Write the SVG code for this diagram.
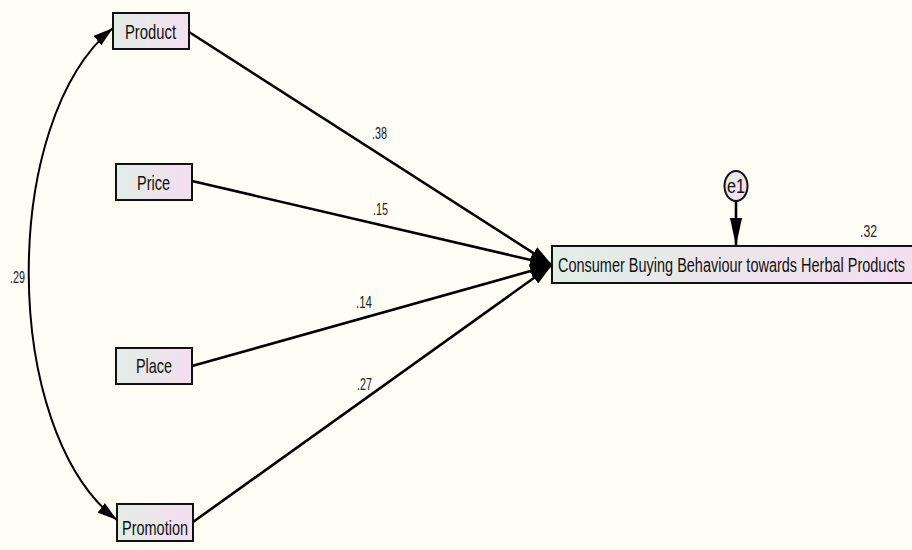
<svg xmlns="http://www.w3.org/2000/svg" width="912" height="550" viewBox="0 0 912 550">
<defs>
<linearGradient id="g" x1="0" y1="0" x2="1" y2="0">
<stop offset="0" stop-color="#e2ede4"/>
<stop offset="1" stop-color="#f4def1"/>
</linearGradient>
<marker id="ah" viewBox="0 0 22 14" refX="22" refY="7" markerWidth="22" markerHeight="14" markerUnits="userSpaceOnUse" orient="auto-start-reverse">
<path d="M0,0 L22,7 L0,14 Z" fill="#000"/>
</marker>
<marker id="ahs" viewBox="0 0 28 12" refX="28" refY="6" markerWidth="28" markerHeight="12" markerUnits="userSpaceOnUse" orient="auto-start-reverse">
<path d="M0,0 L28,6 L0,12 Z" fill="#000"/>
</marker>
<marker id="ahc" viewBox="0 0 20 12" refX="20" refY="6" markerWidth="20" markerHeight="12" markerUnits="userSpaceOnUse" orient="auto-start-reverse">
<path d="M0,0 L20,6 L0,12 Z" fill="#000"/>
</marker>
</defs>
<style>
.box{fill:url(#g);stroke:#111;stroke-width:2}
.t{font-family:"Liberation Sans",Arial,sans-serif;font-size:21px;fill:#111}
.lbl{font-family:"Liberation Sans",Arial,sans-serif;font-size:17px;fill:#222}
.ln{fill:none;stroke:#000;stroke-width:2.6}
</style>
<rect width="912" height="550" fill="#fefef7"/>
<g id="connectors">
<path class="ln" d="M189,32 L552,265" marker-end="url(#ah)"/>
<path class="ln" d="M192,181 L552,265" marker-end="url(#ah)"/>
<path class="ln" d="M192,366 L552,265" marker-end="url(#ah)"/>
<path class="ln" d="M193,522 L552,265" marker-end="url(#ah)"/>
<path class="ln" d="M736,201 L736,246" marker-end="url(#ahs)" stroke-width="2"/>
<path d="M113,28 C0,120 0,430 117,520" fill="none" stroke="#000" stroke-width="2" marker-start="url(#ahc)" marker-end="url(#ahc)"/>
<text class="lbl" x="372" y="139" textLength="15" lengthAdjust="spacingAndGlyphs">.38</text>
<text class="lbl" x="373" y="215" textLength="15" lengthAdjust="spacingAndGlyphs">.15</text>
<text class="lbl" x="356" y="308" textLength="16" lengthAdjust="spacingAndGlyphs">.14</text>
<text class="lbl" x="357" y="390" textLength="15" lengthAdjust="spacingAndGlyphs">.27</text>
<text class="lbl" x="10" y="283" textLength="15" lengthAdjust="spacingAndGlyphs">.29</text>
</g>
<g id="product">
<rect class="box" x="113" y="13" width="76" height="36"/>
<text class="t" x="125" y="39" textLength="51" lengthAdjust="spacingAndGlyphs">Product</text>
</g>
<g id="price">
<rect class="box" x="116" y="164" width="76" height="36"/>
<text class="t" x="137" y="190" textLength="33" lengthAdjust="spacingAndGlyphs">Price</text>
</g>
<g id="place">
<rect class="box" x="116" y="348" width="76" height="36"/>
<text class="t" x="136" y="373" textLength="36" lengthAdjust="spacingAndGlyphs">Place</text>
</g>
<g id="promotion">
<rect class="box" x="117" y="504" width="76" height="37"/>
<text class="t" x="122" y="535" textLength="66" lengthAdjust="spacingAndGlyphs">Promotion</text>
</g>
<g id="consumer">
<rect class="box" x="552" y="246" width="361" height="37"/>
<text class="t" transform="translate(558,272) scale(0.69,1)" x="0" y="0">Consumer Buying Behaviour towards Herbal Products</text>
<text class="lbl" x="860" y="237" textLength="17" lengthAdjust="spacingAndGlyphs">.32</text>
</g>
<g id="e1">
<ellipse cx="736" cy="186" rx="11.5" ry="15" fill="url(#g)" stroke="#111" stroke-width="2"/>
<text class="t" x="727" y="193" textLength="18" lengthAdjust="spacingAndGlyphs" font-size="19">e1</text>
</g>
</svg>
